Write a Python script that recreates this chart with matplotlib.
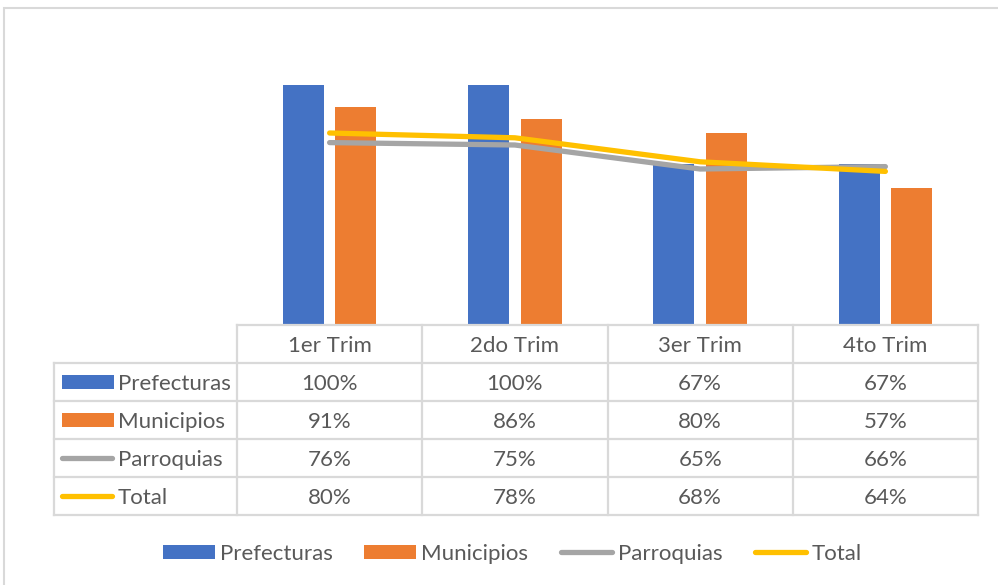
import matplotlib
matplotlib.use("Agg")
import matplotlib.pyplot as plt
from matplotlib.lines import Line2D
from matplotlib.patches import Rectangle

# ---- data ----
categories = ["1er Trim", "2do Trim", "3er Trim", "4to Trim"]
prefecturas = [1.00, 1.00, 0.67, 0.67]
municipios = [0.91, 0.86, 0.80, 0.57]
parroquias = [0.76, 0.75, 0.65, 0.66]
total = [0.80, 0.78, 0.68, 0.64]
series_names = ["Prefecturas", "Municipios", "Parroquias", "Total"]
series_kinds = ["bar", "bar", "line", "line"]
series_values = [prefecturas, municipios, parroquias, total]
colors = ["#4472C4", "#ED7D31", "#A5A5A5", "#FFC000"]

W, H = 998, 585
FONT = "Lato"
TXT = "#595959"
GRID = "#D9D9D9"
FS = 16
TDY = 1.8  # small vertical text offset in px

fig = plt.figure(figsize=(W / 100, H / 100), dpi=100)


def fx(x):
    return x / W


def fy(y):
    return 1 - y / H


# outer chart border
fig.add_artist(Rectangle((fx(4), fy(600)), fx(1010) - fx(4), fy(8) - fy(600),
                         transform=fig.transFigure, fill=False, edgecolor=GRID, lw=1.5))

# main plot axes: x from 237 to 978 px, baseline 325 px, 100% at 85 px
y0, y100 = 325, 85
ymax = 1.2
ytop = y0 - (y0 - y100) * ymax
ax = fig.add_axes([fx(237), fy(y0), fx(978) - fx(237), fy(ytop) - fy(y0)])
ax.set_xlim(-0.5, len(categories) - 0.5)
ax.set_ylim(0, ymax)
ax.axis("off")

xs = list(range(len(categories)))
bw = 0.222
offs = [-0.142, 0.142]
bi = 0
for name, kind, vals, col in zip(series_names, series_kinds, series_values, colors):
    if kind == "bar":
        ax.bar([x + offs[bi] for x in xs], vals, width=bw, color=col, zorder=2)
        bi += 1
for name, kind, vals, col in zip(series_names, series_kinds, series_values, colors):
    if kind == "line":
        ax.plot(xs, vals, color=col, lw=3.8, solid_capstyle="round",
                solid_joinstyle="round", zorder=3)

# ---- data table ----
col_edges = [237, 422.3, 607.5, 792.8, 978]
left_edge = 54
row_edges = [325, 363, 401, 439, 477, 515]


def hline(x1, x2, y):
    fig.add_artist(Line2D([fx(x1), fx(x2)], [fy(y), fy(y)], transform=fig.transFigure,
                          color=GRID, lw=1.6))


def vline(x, y1, y2):
    fig.add_artist(Line2D([fx(x), fx(x)], [fy(y1), fy(y2)], transform=fig.transFigure,
                          color=GRID, lw=1.6))


hline(col_edges[0], col_edges[-1], row_edges[0])
for y in row_edges[1:]:
    hline(left_edge, col_edges[-1], y)
vline(left_edge, row_edges[1], row_edges[-1])
for x in col_edges:
    vline(x, row_edges[0], row_edges[-1])

for i, cat in enumerate(categories):
    cx = (col_edges[i] + col_edges[i + 1]) / 2
    cy = (row_edges[0] + row_edges[1]) / 2
    fig.text(fx(cx), fy(cy + TDY), cat, ha="center", va="center", fontsize=FS,
             family=FONT, color=TXT)

for r, (name, kind, vals, col) in enumerate(zip(series_names, series_kinds,
                                               series_values, colors)):
    cy = (row_edges[r + 1] + row_edges[r + 2]) / 2
    if kind == "bar":
        fig.add_artist(Rectangle((fx(62), fy(cy + 7)), fx(114) - fx(62), fy(cy - 7) - fy(cy + 7),
                                 transform=fig.transFigure, color=col, lw=0))
    else:
        fig.add_artist(Line2D([fx(62), fx(112)], [fy(cy), fy(cy)], transform=fig.transFigure,
                              color=col, lw=3.8, solid_capstyle="round"))
    fig.text(fx(118), fy(cy + TDY), name, ha="left", va="center", fontsize=FS,
             family=FONT, color=TXT)
    for i, v in enumerate(vals):
        cx = (col_edges[i] + col_edges[i + 1]) / 2
        fig.text(fx(cx), fy(cy + TDY), f"{round(v * 100):.0f}%", ha="center", va="center",
                 fontsize=FS, family=FONT, color=TXT)

# ---- bottom legend ----
leg_y = 552
leg_x = [163, 364, 561, 755]
for name, kind, col, lx in zip(series_names, series_kinds, colors, leg_x):
    if kind == "bar":
        fig.add_artist(Rectangle((fx(lx), fy(leg_y + 7)), fx(lx + 52) - fx(lx),
                                 fy(leg_y - 7) - fy(leg_y + 7),
                                 transform=fig.transFigure, color=col, lw=0))
    else:
        fig.add_artist(Line2D([fx(lx), fx(lx + 51)], [fy(leg_y), fy(leg_y)],
                              transform=fig.transFigure, color=col, lw=3.8,
                              solid_capstyle="round"))
    fig.text(fx(lx + 57), fy(leg_y + TDY), name, ha="left", va="center", fontsize=FS,
             family=FONT, color=TXT)

fig.savefig("out.png", dpi=100)
